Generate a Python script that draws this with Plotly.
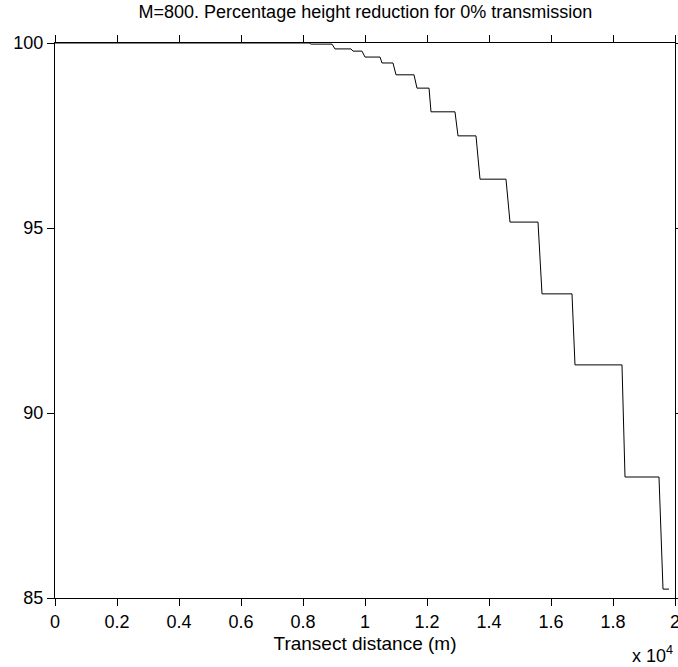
import plotly.graph_objects as go

# Transect distance (m)
distance = [0, 8200, 8260, 8935, 9032, 9548, 9613, 9903, 10000, 10484, 10548, 10903,
            11000, 11581, 11677, 12065, 12129, 12903, 13000, 13581, 13710, 14548,
            14677, 15581, 15710, 16677, 16774, 18290, 18387, 19484, 19613, 19806]
# Percentage height
height = [100, 100, 99.97, 99.97, 99.84, 99.84, 99.78, 99.78, 99.62, 99.62, 99.46, 99.46,
          99.14, 99.14, 98.78, 98.78, 98.14, 98.14, 97.49, 97.49, 96.32, 96.32,
          95.16, 95.16, 93.22, 93.22, 91.30, 91.30, 88.27, 88.27, 85.24, 85.24]

x_tickvals = [0, 2000, 4000, 6000, 8000, 10000, 12000, 14000, 16000, 18000, 20000]
x_ticktext = ["0", "0.2", "0.4", "0.6", "0.8", "1", "1.2", "1.4", "1.6", "1.8", "2"]
y_tickvals = [85, 90, 95, 100]

title = "M=800. Percentage height reduction for 0% transmission"
xlabel = "Transect distance (m)"

FONT = "Liberation Sans, Arial"

fig = go.Figure()
fig.add_trace(go.Scatter(x=distance, y=height, mode="lines",
                         line=dict(color="black", width=1), showlegend=False))

axis_common = dict(showline=True, linecolor="black", linewidth=1, mirror="ticks",
                   ticks="outside", ticklen=7, tickcolor="black", tickwidth=1,
                   showgrid=False, zeroline=False, automargin=False,
                   ticklabeloverflow="allow",
                   tickfont=dict(family=FONT, size=18, color="black"))

fig.update_layout(
    width=678, height=667,
    margin=dict(l=55, r=3, t=43, b=69),
    paper_bgcolor="white", plot_bgcolor="white",
    title=dict(text=title, x=0.539, xanchor="center", y=0.992, yanchor="top",
               font=dict(family=FONT, size=18, color="black")),
    xaxis=dict(range=[0, 20000], tickvals=x_tickvals, ticktext=x_ticktext,
               title=dict(text=xlabel, standoff=6,
                          font=dict(family=FONT, size=19, color="black")),
               **axis_common),
    yaxis=dict(range=[85, 100], tickvals=y_tickvals, **axis_common),
    annotations=[dict(text="x 10<sup>4</sup>", xref="paper", yref="paper",
                      x=1.0, y=-0.078, xanchor="right", yanchor="top", showarrow=False,
                      font=dict(family=FONT, size=18, color="black"))],
)

fig.write_html("out.html")
